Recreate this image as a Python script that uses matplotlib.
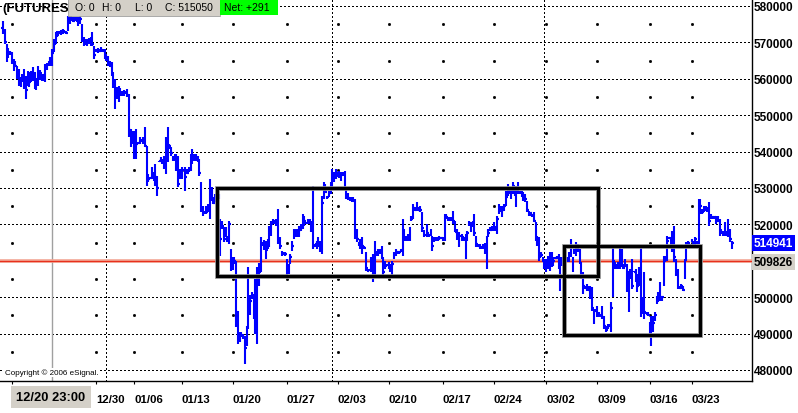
import matplotlib
matplotlib.use("Agg")
import matplotlib.pyplot as plt
from matplotlib.collections import LineCollection
from matplotlib.patches import Rectangle

# bars as (high, low, close) in thousands, one list per stretch of the chart;
# open of each bar = previous close
bars_dec = [
    (575.9, 572.3, 573.0), (573.7, 569.6, 570.0), (569.6, 564.6, 567.5), (568.4, 565.8, 567.2), (567.6, 566.5, 567.0),
    (567.3, 564.1, 564.5), (565.4, 562.1, 563.0), (564.9, 563.2, 563.5), (563.5, 559.9, 561.0), (562.7, 558.0, 559.0),
    (560.5, 557.8, 559.5), (561.3, 559.1, 560.0), (562.7, 557.2, 558.0), (560.8, 554.5, 557.0), (562.1, 558.0, 559.5),
    (561.9, 557.7, 559.0), (562.1, 559.1, 560.5), (563.2, 559.4, 560.0), (561.9, 557.2, 558.5), (560.2, 556.9, 559.0),
    (563.5, 558.0, 561.0), (562.4, 559.8, 561.5), (561.3, 559.4, 560.0), (561.3, 559.4, 561.0), (564.1, 559.1, 563.0),
    (564.4, 562.3, 563.8), (564.9, 563.5, 564.0), (566.0, 563.6, 565.5), (568.2, 563.5, 567.0), (570.9, 567.3, 569.5),
    (572.8, 569.6, 571.5), (573.1, 571.5, 572.0), (573.1, 572.3, 572.5), (573.4, 572.0, 573.0), (573.7, 572.3, 573.0),
    (573.5, 572.6, 572.8), (573.1, 572.3, 572.5), (577.2, 573.1, 576.0), (577.2, 575.1, 576.5), (577.6, 575.8, 576.3),
    (577.0, 575.6, 576.0), (577.0, 575.9, 576.5), (577.1, 575.6, 576.0), (577.0, 574.5, 575.5), (577.2, 575.1, 576.5),
    (575.1, 570.1, 571.0), (571.5, 569.0, 570.0), (571.0, 569.4, 570.4), (570.9, 569.0, 570.5), (571.2, 569.5, 570.2),
    (571.5, 569.0, 570.0), (572.8, 569.0, 569.5), (569.0, 565.4, 566.5), (568.2, 567.3, 567.5), (568.4, 567.0, 567.8),
    (568.2, 567.3, 567.5), (568.7, 567.3, 568.0), (568.2, 567.3, 567.5), (568.2, 565.4, 566.0), (566.8, 564.9, 565.2),
    (566.3, 563.5, 564.5), (564.9, 563.2, 563.5), (564.6, 560.8, 561.5), (561.8, 557.5, 558.5), (559.9, 551.7, 556.0),
    (557.7, 554.5, 556.5),
]
bars_jan = [
    (558.0, 553.6, 556.5), (557.4, 555.2, 556.2), (556.6, 555.3, 556.0), (556.9, 555.4, 556.3), (556.6, 555.8, 556.0),
    (557.2, 555.0, 555.5), (555.8, 544.0, 546.0), (546.2, 541.3, 543.5), (545.7, 542.1, 544.0), (545.7, 538.0, 541.0),
    (546.2, 538.0, 542.0), (542.6, 542.1, 542.3), (544.0, 542.1, 543.0), (543.5, 542.6, 543.0), (544.0, 542.1, 542.5),
    (546.8, 541.3, 541.5), (541.5, 530.5, 532.0), (533.8, 531.6, 532.5), (533.0, 532.5, 532.7), (535.8, 532.5, 533.0),
    (534.4, 531.9, 533.0), (536.6, 530.5, 533.0), (533.3, 527.8, 530.0), (537.4, 537.1, 537.3), (538.5, 537.1, 537.5),
    (538.0, 536.6, 537.5), (538.8, 535.2, 536.0), (544.0, 533.8, 540.0), (546.8, 537.1, 542.0), (542.1, 540.7, 541.5),
    (541.3, 538.8, 539.5), (538.8, 537.4, 538.0), (539.3, 537.4, 538.5), (539.3, 534.7, 536.0), (538.8, 530.3, 531.0),
    (535.2, 532.5, 533.0), (535.8, 532.5, 534.0), (535.2, 534.7, 535.0), (535.8, 529.1, 533.0), (535.2, 533.8, 534.0),
    (535.8, 534.4, 535.0), (539.3, 534.7, 538.0), (540.7, 536.6, 538.5), (539.3, 537.4, 538.0), (539.3, 537.4, 538.5),
    (538.8, 537.1, 537.5), (538.0, 533.3, 534.0), (531.6, 523.4, 524.5), (525.0, 522.3, 523.0), (523.7, 523.4, 523.5),
    (525.0, 522.9, 523.5), (525.6, 523.4, 524.5), (532.5, 521.5, 529.0), (530.3, 526.4, 527.0), (527.5, 525.6, 526.0),
    (528.4, 526.2, 527.0), (528.9, 524.8, 528.0), (528.4, 527.0, 527.5), (521.5, 511.3, 516.0), (520.9, 518.7, 519.5),
    (519.3, 515.2, 516.0), (519.3, 516.5, 517.5), (516.8, 515.2, 516.0), (520.9, 514.6, 520.0), (513.2, 507.2, 509.0),
    (511.0, 507.4, 509.5), (511.0, 509.1, 510.0), (509.9, 491.8, 496.0), (496.2, 487.1, 489.0), (490.4, 487.7, 489.0),
    (490.4, 489.1, 489.5), (489.9, 488.5, 489.0), (489.3, 481.6, 486.0), (492.1, 486.6, 490.0),
]
bars_feb1 = [
    (508.3, 491.3, 497.0), (500.5, 495.0, 499.0), (501.4, 499.5, 500.0), (501.0, 494.0, 496.0), (505.0, 489.9, 495.0),
    (508.3, 487.1, 505.0), (509.5, 503.0, 507.0), (516.5, 506.9, 514.0), (515.2, 514.0, 514.5), (515.6, 513.0, 514.0),
    (515.4, 510.5, 513.0), (516.0, 513.2, 514.0), (519.6, 513.8, 518.0), (521.0, 516.8, 520.0), (521.5, 520.1, 521.0),
    (521.0, 520.1, 520.5), (521.5, 519.6, 520.5), (524.2, 514.6, 516.0), (516.5, 513.2, 514.0), (512.7, 511.3, 512.0),
    (512.4, 511.9, 512.0), (512.4, 511.3, 512.0), (510.5, 505.6, 507.0), (509.0, 506.5, 508.5), (511.9, 509.1, 511.0),
    (515.4, 512.7, 514.0), (518.7, 516.0, 517.5), (518.7, 516.5, 517.5), (518.7, 516.5, 518.0), (519.6, 516.5, 518.5),
    (520.1, 518.2, 519.0), (522.9, 518.7, 521.5), (522.3, 519.6, 521.0), (520.7, 520.1, 520.5), (521.5, 520.1, 521.0),
    (521.5, 520.1, 521.0), (521.0, 517.9, 519.0), (530.5, 513.2, 514.0), (514.6, 513.8, 514.5), (515.4, 513.2, 514.0),
    (516.5, 513.8, 515.0), (515.4, 512.4, 513.0), (527.8, 511.9, 526.0), (531.6, 527.0, 530.0), (531.1, 528.9, 529.0),
    (527.8, 527.0, 527.5), (529.2, 527.5, 528.5), (531.6, 528.4, 530.0), (535.2, 530.3, 533.0), (534.4, 531.6, 533.5),
    (535.2, 532.5, 534.0), (533.8, 533.0, 533.5), (534.6, 532.8, 533.8), (534.4, 531.9, 533.5), (534.4, 533.3, 533.8),
    (534.7, 529.7, 530.0), (530.3, 527.0, 528.0), (528.6, 526.8, 527.3), (527.5, 526.4, 527.0), (527.5, 526.2, 527.0),
    (527.5, 526.2, 526.5), (527.0, 516.0, 518.0), (518.7, 515.2, 516.0), (515.2, 514.1, 514.5), (516.0, 513.2, 514.5),
    (516.5, 511.9, 514.0), (514.1, 513.2, 513.5), (512.4, 507.2, 508.0), (507.7, 506.9, 507.3), (507.7, 507.2, 507.5),
    (511.0, 506.9, 508.0), (511.9, 504.2, 509.0),
]
bars_feb2 = [
    (515.4, 505.8, 512.0), (512.7, 511.3, 512.0), (513.2, 511.3, 512.5), (513.2, 511.9, 512.5), (514.1, 510.5, 511.0),
    (511.0, 505.6, 507.0), (509.9, 507.7, 508.5), (509.1, 508.6, 508.8), (509.6, 507.7, 508.5), (509.1, 506.9, 507.5),
    (509.9, 505.8, 509.0), (512.4, 510.5, 511.5), (513.2, 511.3, 512.0), (512.7, 511.9, 512.3), (512.7, 511.9, 512.3),
    (513.2, 512.4, 513.0), (521.5, 511.3, 519.0), (518.7, 515.4, 516.0), (516.8, 515.4, 516.0), (517.4, 515.4, 516.5),
    (519.3, 515.4, 519.0), (522.3, 521.0, 521.5), (525.6, 521.5, 524.5), (524.8, 523.7, 524.0), (526.2, 523.7, 524.5),
    (524.8, 523.7, 524.0), (525.0, 523.4, 524.0), (523.4, 517.9, 519.0), (518.5, 516.6, 517.2), (517.4, 516.8, 517.0),
    (520.1, 516.5, 517.5), (517.4, 516.5, 517.0), (518.7, 516.8, 518.0), (516.8, 512.7, 514.0), (516.5, 515.2, 516.0),
    (516.5, 515.4, 516.0), (516.5, 515.4, 516.0), (516.8, 515.6, 516.2), (516.5, 516.0, 516.3), (516.5, 515.4, 516.0),
    (522.9, 515.4, 521.5), (522.9, 521.5, 522.0), (522.0, 521.0, 521.5), (522.0, 521.0, 521.5), (522.0, 521.0, 521.5),
    (523.7, 520.1, 521.0), (521.0, 517.9, 518.0), (518.6, 515.8, 516.5), (518.0, 513.8, 516.0), (516.8, 516.5, 516.7),
    (517.4, 515.4, 516.5), (516.5, 515.4, 516.0), (517.4, 510.5, 515.0), (518.2, 515.4, 517.5), (521.0, 519.6, 520.5),
    (520.7, 517.9, 520.0), (521.0, 519.3, 520.0), (522.9, 516.8, 517.5), (516.8, 513.8, 514.5), (514.6, 513.8, 514.2),
    (514.6, 513.2, 514.0), (514.1, 513.2, 513.8), (514.6, 513.2, 514.0), (514.8, 512.0, 513.0), (516.8, 507.7, 515.0),
    (518.7, 516.5, 517.5), (519.3, 518.2, 518.5), (519.6, 518.2, 519.0), (520.7, 518.2, 519.5), (519.6, 518.2, 519.0),
    (522.3, 517.4, 521.5), (525.6, 522.9, 524.5), (525.0, 523.4, 524.5), (525.0, 522.0, 524.0), (525.6, 523.7, 525.0),
]
bars_mar1 = [
    (529.2, 525.0, 527.5), (531.1, 527.8, 530.0), (529.7, 528.4, 529.0), (530.3, 527.0, 529.0), (531.6, 528.4, 530.5),
    (530.3, 527.8, 529.5), (530.5, 524.8, 529.0), (531.6, 528.4, 530.0), (529.2, 528.4, 529.0), (529.2, 527.5, 528.0),
    (528.9, 526.4, 527.0), (528.4, 526.2, 527.0), (526.4, 523.4, 524.0), (523.7, 522.3, 523.0), (523.4, 522.3, 523.0),
    (522.9, 522.0, 522.5), (523.4, 520.7, 521.0), (520.7, 515.4, 517.0), (516.8, 514.1, 515.0), (516.5, 509.9, 511.0),
    (512.4, 511.0, 511.5), (511.0, 509.6, 510.0), (510.5, 507.7, 509.0), (510.5, 506.9, 509.5), (511.3, 507.7, 508.5),
    (512.4, 507.2, 510.0), (512.4, 508.3, 510.0), (511.0, 508.6, 510.0), (511.0, 510.5, 510.7), (511.3, 510.5, 511.0),
    (511.9, 507.7, 509.0), (511.0, 501.7, 509.0), (511.0, 508.6, 510.0), (511.0, 509.6, 510.5), (510.5, 509.9, 510.2),
    (511.0, 509.6, 510.5), (512.4, 509.6, 511.5), (516.0, 511.0, 514.0), (511.0, 506.9, 508.0), (513.2, 511.9, 512.5),
    (515.2, 511.3, 514.0), (514.6, 512.4, 513.0), (513.2, 509.1, 510.0), (509.6, 505.0, 506.0), (506.9, 500.9, 503.0),
    (503.1, 502.2, 502.5), (503.6, 501.7, 502.5), (503.1, 501.7, 502.0), (503.1, 499.5, 500.0), (502.8, 496.2, 497.0),
    (496.8, 492.6, 494.0), (496.8, 495.9, 496.3), (497.6, 494.6, 495.0), (495.9, 494.6, 495.0), (495.4, 494.6, 495.0),
    (497.6, 494.0, 494.5), (494.8, 491.3, 492.0), (492.1, 490.4, 491.0), (492.6, 491.3, 492.0), (492.6, 491.8, 492.0),
    (498.7, 490.4, 497.0), (513.8, 500.0, 510.0), (509.6, 507.7, 509.0), (509.1, 507.7, 508.5), (509.6, 507.7, 509.0),
    (513.8, 507.7, 510.5), (513.2, 508.3, 509.5), (509.1, 507.7, 508.0), (510.5, 508.3, 508.5), (509.1, 501.4, 502.0),
]
bars_mar2 = [
    (507.2, 495.9, 500.0), (507.7, 505.0, 506.0), (510.5, 502.2, 503.0), (507.2, 506.9, 507.0), (507.7, 504.2, 505.0),
    (506.3, 501.4, 503.0), (508.3, 503.1, 505.0), (513.8, 494.6, 497.0), (500.0, 495.4, 497.0), (506.9, 494.0, 496.0),
    (495.9, 495.4, 495.5), (495.9, 494.8, 495.0), (493.2, 489.3, 490.0), (494.8, 486.6, 491.0), (494.8, 490.4, 493.0),
    (495.9, 493.5, 495.0), (500.3, 498.1, 499.0), (501.4, 498.7, 500.0), (504.2, 499.0, 500.0), (500.3, 499.0, 500.0),
    (511.3, 503.1, 510.0), (511.3, 509.6, 510.5), (516.8, 509.9, 515.5), (516.5, 516.0, 516.2), (516.5, 514.1, 515.0),
    (518.2, 512.4, 515.0), (519.6, 509.6, 511.0), (510.5, 505.8, 507.0), (507.7, 502.2, 503.0), (503.1, 502.2, 502.5),
    (503.6, 502.2, 503.0), (503.1, 501.7, 502.0), (510.5, 505.0, 509.0), (515.2, 509.9, 514.0), (515.4, 513.8, 515.0),
    (514.6, 513.8, 514.2), (516.0, 515.2, 515.5), (515.4, 514.1, 515.0), (516.5, 514.1, 516.0), (515.4, 514.6, 515.0),
    (527.0, 514.6, 525.0), (527.0, 522.9, 525.0), (524.2, 522.9, 523.5), (525.0, 523.4, 524.5), (525.0, 523.7, 524.5),
    (524.8, 523.4, 524.0), (526.2, 519.6, 521.0), (522.9, 521.5, 522.0), (522.3, 521.5, 522.0), (522.3, 521.5, 522.0),
    (522.3, 520.1, 521.0), (522.3, 520.7, 521.0), (521.5, 516.8, 518.0), (518.7, 517.4, 518.0), (518.2, 516.8, 517.5),
    (520.7, 516.8, 518.0), (517.9, 516.8, 517.0), (521.5, 516.5, 517.0), (518.7, 515.2, 516.0), (515.4, 513.2, 514.941),
]
first_open = 574.0

# bar index of each week start, month change and the cursor
week_idx = [5, 53, 75, 102, 131, 162, 191, 220, 251, 280, 310, 339, 369, 393]
week_labels = ["", "12/30", "01/06", "01/13", "01/20", "01/27", "02/03", "02/10",
               "02/17", "02/24", "03/02", "03/09", "03/16", "03/23"]
month_idx = [59, 188, 309]
cursor_idx = 28
cursor_label = "12/20 23:00"

price_ticks = list(range(480000, 580001, 10000))
last_price = 514941
ref_price = 509826
# drawn boxes: (bar from, bar to, price low, price high)
boxes = [(122.1, 339.5, 505800, 530000), (320.1, 397.7, 489700, 514000)]

bars = bars_dec + bars_jan + bars_feb1 + bars_feb2 + bars_mar1 + bars_mar2
hi = [b[0] * 1000 for b in bars]
lo = [b[1] * 1000 for b in bars]
cl = [b[2] * 1000 for b in bars]
op = [first_open * 1000] + cl[:-1]
n = len(bars)

W, H = 798, 414
fig = plt.figure(figsize=(W / 100, H / 100), dpi=100)
ax = fig.add_axes([0, 32 / H, 752 / W, 382 / H])

step = 729 / (n - 1)
ax.set_xlim(-3 / step, 749 / step)
ax.set_ylim(476976, 581923)

tk = 0.9
segs = []
for i in range(n):
    segs.append([(i, lo[i]), (i, hi[i])])
    segs.append([(i - tk, op[i]), (i, op[i])])
    segs.append([(i, cl[i]), (i + tk, cl[i])])
ax.add_collection(LineCollection(segs, colors="#0000ff", linewidths=1.5, zorder=4))

# grid
dot = (0, (1, 2))
for p in price_ticks:
    ax.axhline(p, color="black", lw=0.75, ls=dot, zorder=1, antialiased=False)
for m in month_idx:
    ax.axvline(m, color="black", lw=0.75, ls=dot, zorder=1, antialiased=False)
half = [p + 5000 for p in price_ticks[:-1]]
for w in week_idx:
    ax.plot([w] * len(half), half, ls="none", marker="s", ms=1.0, color="black", zorder=1)
ax.axvline(cursor_idx, color="#a0a0a0", lw=1.0, zorder=2)

# reference price line
ax.axhline(ref_price, color="#f2a594", lw=2.6, zorder=3)
ax.axhline(ref_price, color="#e8301c", lw=0.9, zorder=3)

for x0, x1, y0, y1 in boxes:
    ax.add_patch(Rectangle((x0, y0), x1 - x0, y1 - y0, fill=False, ec="#909090", lw=3.4, zorder=5))
    ax.add_patch(Rectangle((x0, y0), x1 - x0, y1 - y0, fill=False, ec="black", lw=2.2, zorder=6))

for s in ["top", "left"]:
    ax.spines[s].set_visible(False)
for s in ["right", "bottom"]:
    ax.spines[s].set_color("black")
    ax.spines[s].set_linewidth(1.0)

ax.yaxis.tick_right()
ax.set_yticks(price_ticks)
ax.set_yticklabels([str(p) for p in price_ticks], fontsize=8.5, fontweight="bold",
                   family="Liberation Sans")
ax.tick_params(axis="y", length=0, pad=1.5)

ax.set_xticks(week_idx)
ax.set_xticklabels(week_labels, fontsize=8.2, fontweight="bold", family="Liberation Sans", ha="left")
ax.tick_params(axis="x", length=2.5, width=0.8, pad=7, direction="out")


def fx(px):
    return px / W


def fy(py):
    return 1 - py / H


# right side price flags
fig.text(fx(754), fy(244), str(last_price), fontsize=8.5, fontweight="bold", color="white",
         family="Liberation Sans", va="center", ha="left",
         bbox=dict(boxstyle="square,pad=0.15", fc="#0000ff", ec="none"))
fig.text(fx(754), fy(263), str(ref_price), fontsize=8.5, fontweight="bold", color="black",
         family="Liberation Sans", va="center", ha="left",
         bbox=dict(boxstyle="square,pad=0.15", fc="#d4d0c8", ec="none"))

# cursor date flag
fig.text(fx(51), fy(398), cursor_label, fontsize=9.3, fontweight="bold", family="Liberation Sans",
         va="center", ha="center", bbox=dict(boxstyle="square,pad=0.4", fc="#d4d0c8", ec="none"))

# header
fig.text(fx(2), fy(9), "(FUTURES;", fontsize=9.5, fontweight="bold", family="Liberation Sans",
         va="center", ha="left")
fig.add_artist(Rectangle((fx(68), fy(17)), fx(152), 17 / H, transform=fig.transFigure,
                         fc="#d4d0c8", ec="#a0a0a0", lw=0.6, zorder=10))
fig.add_artist(Rectangle((fx(220), fy(16)), fx(58), 15 / H, transform=fig.transFigure,
                         fc="#00ff00", ec="none", zorder=11))
for px, s in [(75, "O: 0"), (102, "H: 0"), (135, "L: 0"), (165, "C: 515050"), (224, "Net: +291")]:
    fig.text(fx(px), fy(8), s, fontsize=7.5, family="Liberation Sans", va="center", ha="left", zorder=12)

ax.text(fx(5) * W / 752, 0.023, "Copyright \u00a9 2006 eSignal.", transform=ax.transAxes, fontsize=5.8,
        family="Liberation Sans", va="center", ha="left", zorder=7,
        bbox=dict(boxstyle="square,pad=0.1", fc="white", ec="none"))

fig.savefig("out.png", dpi=100)
